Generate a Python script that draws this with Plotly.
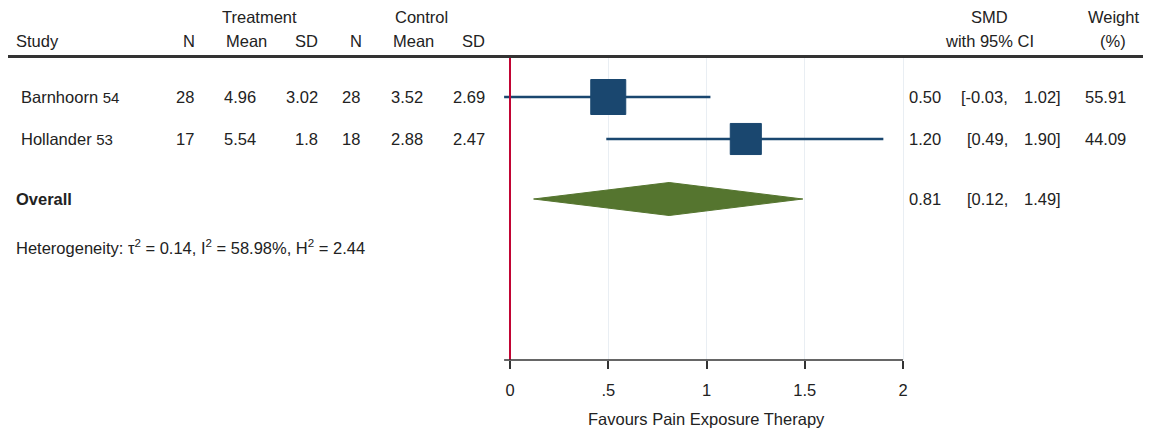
import plotly.graph_objects as go

# ---------------- data ----------------
studies = ["Barnhoorn", "Hollander"]
refs = ["54", "53"]
trt_n = [28, 17]
trt_mean = [4.96, 5.54]
trt_sd = ["3.02", "1.8"]
ctl_n = [28, 18]
ctl_mean = [3.52, 2.88]
ctl_sd = [2.69, 2.47]
smd = [0.50, 1.20]
ci_low = [-0.03, 0.49]
ci_high = [1.02, 1.90]
weight = [55.91, 44.09]
overall = [0.81, 0.12, 1.49]   # estimate, lower, upper
het = {"tau2": 0.14, "I2": 58.98, "H2": 2.44}
tick_vals = [0, 0.5, 1, 1.5, 2]
tick_text = ["0", ".5", "1", "1.5", "2"]
x_title = "Favours Pain Exposure Therapy"

# ---------------- layout helpers ----------------
PAGE_W, PAGE_H = 1151, 433
OFF = 8                      # default body margin of the html page
W, H = PAGE_W - OFF, PAGE_H - OFF
FONT = "Liberation Sans, Arial, sans-serif"
FS = 16.5
TXT = "#222222"
NAVY = "#1a476f"
GREEN = "#55752f"
RED = "#c10534"

def px(p):
    return (p - OFF) / W

def py(p):
    return 1 - (p - OFF) / H

# x axis: value 0 -> 510px, value 2 -> 903px (page pixels)
u = (903 - 510) / 2.0
xr = [-0.1, 2.1]
dom_x = [px(510 + xr[0] * u), px(510 + xr[1] * u)]
# y axis in row units: 1 row = 42px, row 1 at 97px, plot top 57px, bottom 360px
row_px = 42.0
y_top = 1 - (97 - 57) / row_px
y_bot = 1 + (360 - 97) / row_px
dom_y = [py(360), py(57)]
study_rows = [1, 2]
overall_row = 1 + (199 - 97) / row_px
het_row = 1 + (247 - 97) / row_px

fig = go.Figure()

# CI lines and squares
for i in range(len(studies)):
    fig.add_trace(go.Scatter(x=[ci_low[i], ci_high[i]], y=[study_rows[i]] * 2,
                             mode="lines", line=dict(color=NAVY, width=2.5),
                             hoverinfo="skip", showlegend=False))
sizes = [4.68 * (w ** 0.5) for w in weight]
fig.add_trace(go.Scatter(x=smd, y=study_rows, mode="markers",
                         marker=dict(symbol="square", size=sizes, color=NAVY, opacity=1,
                                     line=dict(color=NAVY, width=1)),
                         showlegend=False, cliponaxis=False))

# overall diamond
dh = 16.5 / row_px
fig.add_trace(go.Scatter(x=[overall[1], overall[0], overall[2], overall[0], overall[1]],
                         y=[overall_row, overall_row - dh, overall_row, overall_row + dh, overall_row],
                         mode="lines", fill="toself", fillcolor=GREEN,
                         line=dict(color=GREEN, width=1), showlegend=False))

shapes = [
    # header rule
    dict(type="line", xref="paper", yref="paper", x0=px(8), x1=px(1147), y0=py(56.5), y1=py(56.5),
         line=dict(color="#333333", width=3)),
    # no-effect line
    dict(type="line", xref="x", yref="paper", x0=0, x1=0, y0=dom_y[0], y1=py(58),
         line=dict(color=RED, width=2)),
    # x axis line
    dict(type="line", xref="x", yref="paper", x0=ci_low[0], x1=2, y0=dom_y[0], y1=dom_y[0],
         line=dict(color="#333333", width=1.5)),
]

ann = []

def txt(x, y, s, anchor="right", yref="paper", size=FS, bold=False):
    if bold:
        s = "<b>" + s + "</b>"
    ann.append(dict(x=x, y=y, xref="paper", yref=yref, text=s, showarrow=False,
                    xanchor=anchor, yanchor="middle",
                    font=dict(family=FONT, size=size, color=TXT)))

# headers
txt(px(259), py(17), "Treatment", "center")
txt(px(421), py(17), "Control", "center")
txt(px(14), py(41), "Study", "left")
txt(px(197), py(41), "N", "right")
txt(px(246), py(41), "Mean", "center")
txt(px(320), py(41), "SD", "right")
txt(px(364), py(41), "N", "right")
txt(px(413), py(41), "Mean", "center")
txt(px(487), py(41), "SD", "right")
txt(px(989), py(17), "SMD", "center")
txt(px(989), py(41), "with 95% CI", "center")
txt(px(1113), py(17), "Weight", "center")
txt(px(1113), py(41), "(%)", "center")

# study rows
for i in range(len(studies)):
    r = study_rows[i]
    txt(px(19), r, studies[i] + " <span style='font-size:15px'>" + refs[i] + "</span>", "left", "y")
    txt(px(196), r, str(trt_n[i]), "right", "y")
    txt(px(258), r, f"{trt_mean[i]:.2f}", "right", "y")
    txt(px(320), r, trt_sd[i], "right", "y")
    txt(px(362), r, str(ctl_n[i]), "right", "y")
    txt(px(425), r, f"{ctl_mean[i]:.2f}", "right", "y")
    txt(px(487), r, f"{ctl_sd[i]:.2f}", "right", "y")
    txt(px(943), r, f"{smd[i]:.2f}", "right", "y")
    txt(px(1010), r, f"[{ci_low[i]:.2f},", "right", "y")
    txt(px(1063), r, f"{ci_high[i]:.2f}]", "right", "y")
    txt(px(1128), r, f"{weight[i]:.2f}", "right", "y")

# overall row
txt(px(14), overall_row, "Overall", "left", "y", bold=True)
txt(px(943), overall_row, f"{overall[0]:.2f}", "right", "y")
txt(px(1010), overall_row, f"[{overall[1]:.2f},", "right", "y")
txt(px(1063), overall_row, f"{overall[2]:.2f}]", "right", "y")

# heterogeneity
txt(px(14), het_row,
    f"Heterogeneity: τ<sup>2</sup> = {het['tau2']:.2f}, I<sup>2</sup> = {het['I2']:.2f}%, "
    f"H<sup>2</sup> = {het['H2']:.2f}", "left", "y")

# axis title
ann.append(dict(x=1, y=py(419), xref="x", yref="paper", text=x_title, showarrow=False,
                xanchor="center", yanchor="middle",
                font=dict(family=FONT, size=FS, color=TXT)))

fig.update_layout(
    width=W, height=H, margin=dict(l=0, r=0, t=0, b=0),
    paper_bgcolor="white", plot_bgcolor="white",
    xaxis=dict(domain=dom_x, range=xr, tickvals=tick_vals, ticktext=tick_text,
               showgrid=True, gridcolor="#e9eef3", gridwidth=1, zeroline=False,
               showline=False, ticks="outside", ticklen=8, tickwidth=1.5, tickcolor="#333333",
               tickfont=dict(family=FONT, size=FS, color=TXT), ticklabelstandoff=7,
               fixedrange=True),
    yaxis=dict(domain=dom_y, range=[y_bot, y_top], visible=False, showgrid=False,
               zeroline=False, fixedrange=True),
    shapes=shapes, annotations=ann, showlegend=False,
)

fig.write_html("out.html")
